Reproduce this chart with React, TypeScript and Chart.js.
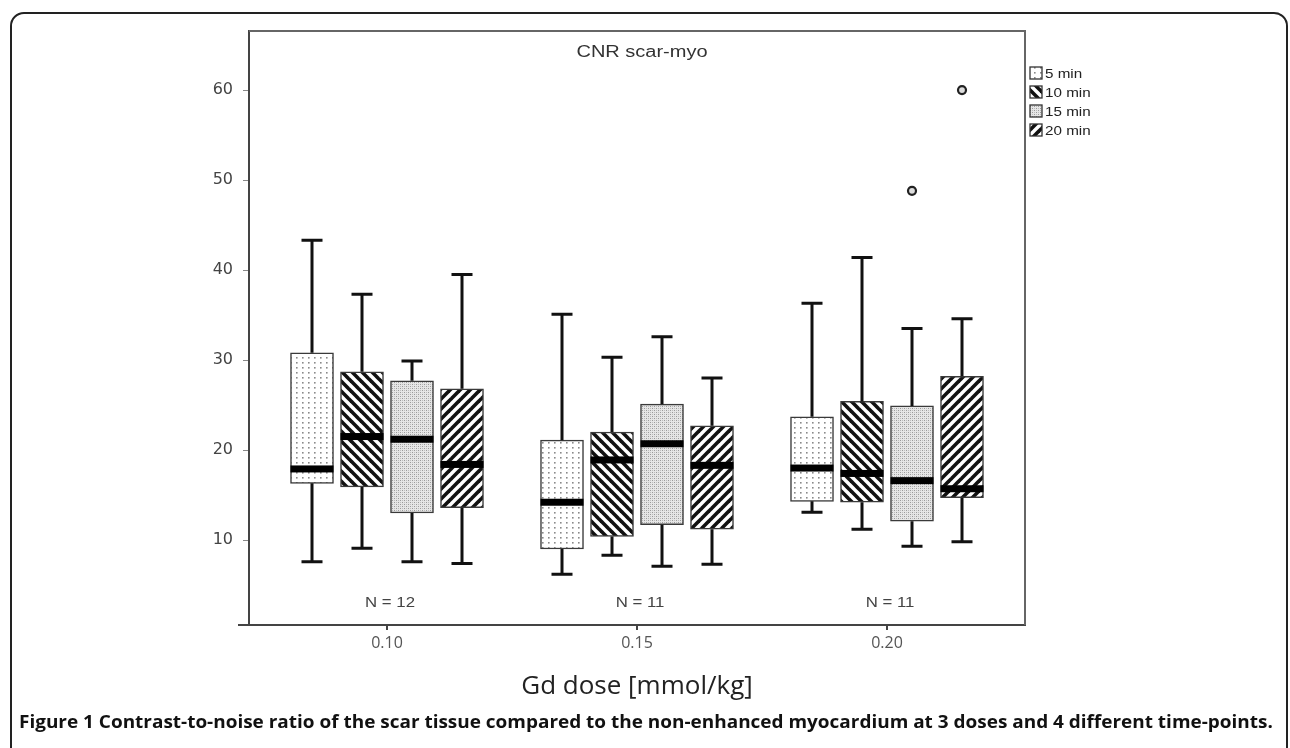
import React, { useEffect, useRef } from 'react';
import { Chart, registerables } from 'chart.js';

Chart.register(...registerables);

// ---- Data ----
const doses = [0.1, 0.15, 0.2];
const times = ['5 min', '10 min', '15 min', '20 min'];
const groupN = ['N = 12', 'N = 11', 'N = 11'];
const yTicks = [10, 20, 30, 40, 50, 60];
const timeOffsets = [-0.015, -0.005, 0.005, 0.015];

// 5 min
const min5 = [7.6, 6.2, 13.1];
const q1_5 = [16.3, 9.0, 14.3];
const med5 = [17.9, 14.2, 18.0];
const q3_5 = [30.8, 21.1, 23.7];
const max5 = [43.3, 35.1, 36.3];
// 10 min
const min10 = [9.1, 8.3, 11.2];
const q1_10 = [15.9, 10.4, 14.2];
const med10 = [21.5, 18.9, 17.4];
const q3_10 = [28.7, 22.0, 25.4];
const max10 = [37.3, 30.3, 41.4];
// 15 min
const min15 = [7.6, 7.1, 9.3];
const q1_15 = [13.0, 11.7, 12.1];
const med15 = [21.2, 20.7, 16.6];
const q3_15 = [27.7, 25.1, 24.9];
const max15 = [29.9, 32.6, 33.5];
// 20 min
const min20 = [7.4, 7.3, 9.8];
const q1_20 = [13.6, 11.2, 14.7];
const med20 = [18.4, 18.3, 15.7];
const q3_20 = [26.8, 22.7, 28.2];
const max20 = [39.5, 28.0, 34.6];

// outliers
const outlierDose = [0.2, 0.2];
const outlierTime = [2, 3];
const outlierValue = [48.8, 60.0];

const mins = [min5, min10, min15, min20];
const q1s = [q1_5, q1_10, q1_15, q1_20];
const meds = [med5, med10, med15, med20];
const q3s = [q3_5, q3_10, q3_15, q3_20];
const maxs = [max5, max10, max15, max20];

function makePattern(kind: string): CanvasPattern | string {
  const c = document.createElement('canvas');
  const ctx = c.getContext('2d')!;
  if (kind === 'dots') {
    c.width = 6; c.height = 5;
    ctx.fillStyle = '#fff'; ctx.fillRect(0, 0, 6, 5);
    ctx.fillStyle = '#8a8a8a'; ctx.fillRect(2, 2, 1.6, 1.6);
  } else if (kind === 'fine') {
    c.width = 4; c.height = 4;
    ctx.fillStyle = '#e6e6e6'; ctx.fillRect(0, 0, 4, 4);
    ctx.fillStyle = '#9a9a9a'; ctx.fillRect(0, 0, 1, 1); ctx.fillRect(2, 2, 1, 1);
    ctx.fillStyle = '#bdbdbd'; ctx.fillRect(2, 0, 1, 1); ctx.fillRect(0, 2, 1, 1);
  } else {
    c.width = 10; c.height = 10;
    ctx.fillStyle = '#fff'; ctx.fillRect(0, 0, 10, 10);
    ctx.strokeStyle = '#111'; ctx.lineWidth = 3.6;
    for (let k = -1; k <= 2; k++) {
      ctx.beginPath();
      if (kind === 'back') {
        ctx.moveTo(k * 10 - 3, -3); ctx.lineTo(k * 10 + 13, 13);
      } else {
        ctx.moveTo(k * 10 + 3, -3); ctx.lineTo(k * 10 - 13, 13);
      }
      ctx.stroke();
    }
  }
  return ctx.createPattern(c, 'repeat') || '#fff';
}

function stretchText(ctx: CanvasRenderingContext2D, text: string, x: number, y: number, sx: number) {
  ctx.save();
  ctx.translate(x, y);
  ctx.scale(sx, 1);
  ctx.fillText(text, 0, 0);
  ctx.restore();
}

export default function App() {
  const ref = useRef<HTMLCanvasElement | null>(null);

  useEffect(() => {
    const canvas = ref.current;
    if (!canvas) return;
    const patterns = [makePattern('dots'), makePattern('back'), makePattern('fine'), makePattern('fwd')];

    const boxPlugin = {
      id: 'boxExtras',
      afterDatasetsDraw(chart: any) {
        const ctx = chart.ctx as CanvasRenderingContext2D;
        const xs = chart.scales.x;
        const ys = chart.scales.y;
        const ca = chart.chartArea;
        ctx.save();
        for (let i = 0; i < times.length; i++) {
          for (let j = 0; j < doses.length; j++) {
            const x = xs.getPixelForValue(doses[j] + timeOffsets[i]);
            const yMin = ys.getPixelForValue(mins[i][j]);
            const yQ1 = ys.getPixelForValue(q1s[i][j]);
            const yMed = ys.getPixelForValue(meds[i][j]);
            const yQ3 = ys.getPixelForValue(q3s[i][j]);
            const yMax = ys.getPixelForValue(maxs[i][j]);
            ctx.strokeStyle = '#111';
            ctx.lineWidth = 3;
            ctx.beginPath();
            ctx.moveTo(x, yQ3); ctx.lineTo(x, yMax);
            ctx.moveTo(x, yQ1); ctx.lineTo(x, yMin);
            ctx.moveTo(x - 10.5, yMax); ctx.lineTo(x + 10.5, yMax);
            ctx.moveTo(x - 10.5, yMin); ctx.lineTo(x + 10.5, yMin);
            ctx.stroke();
            ctx.fillStyle = '#000';
            ctx.fillRect(x - 21.5, yMed - 3.5, 43, 7);
          }
        }
        // N labels
        ctx.fillStyle = '#444';
        ctx.font = '15px "Liberation Sans", Arial, sans-serif';
        ctx.textAlign = 'center';
        ctx.textBaseline = 'middle';
        for (let j = 0; j < doses.length; j++) {
          stretchText(ctx, groupN[j], xs.getPixelForValue(doses[j]) + 3, ys.getPixelForValue(3), 1.12);
        }
        // frame top/right
        ctx.strokeStyle = '#666';
        ctx.lineWidth = 2;
        ctx.beginPath();
        ctx.moveTo(ca.left, ca.top); ctx.lineTo(ca.right, ca.top); ctx.lineTo(ca.right, ca.bottom);
        ctx.stroke();
        ctx.strokeStyle = '#444';
        ctx.beginPath();
        ctx.moveTo(ca.left - 11, ca.bottom); ctx.lineTo(ca.left, ca.bottom);
        ctx.stroke();
        // title
        ctx.fillStyle = '#333';
        ctx.font = '16px "Liberation Sans", Arial, sans-serif';
        ctx.textAlign = 'center';
        stretchText(ctx, 'CNR scar-myo', (ca.left + ca.right) / 2 + 5, ca.top + 22, 1.25);
        // legend
        ctx.textAlign = 'left';
        ctx.font = '13px "Liberation Sans", Arial, sans-serif';
        for (let i = 0; i < times.length; i++) {
          const ly = 73 + i * 19;
          ctx.fillStyle = patterns[i] as any;
          ctx.fillRect(ca.right + 5, ly - 6, 12, 12);
          ctx.strokeStyle = '#333';
          ctx.lineWidth = 1.3;
          ctx.strokeRect(ca.right + 5, ly - 6, 12, 12);
          ctx.fillStyle = '#222';
          stretchText(ctx, times[i], ca.right + 20, ly + 1, 1.17);
        }
        ctx.restore();
      },
    };

    const chart = new Chart(canvas, {
      type: 'bar',
      data: {
        datasets: [
          ...times.map((t, i) => ({
            type: 'bar' as const,
            label: t,
            data: doses.map((d, j) => ({ x: d + timeOffsets[i], y: [q1s[i][j], q3s[i][j]] })),
            backgroundColor: patterns[i] as any,
            borderColor: '#3a3a3a',
            borderWidth: 1.5,
            borderSkipped: false,
            grouped: false,
            barThickness: 43,
          })),
          {
            type: 'scatter' as const,
            label: 'outliers',
            data: outlierDose.map((d, k) => ({ x: d + timeOffsets[outlierTime[k]], y: outlierValue[k] })),
            pointRadius: 4,
            pointBorderWidth: 2.2,
            pointBackgroundColor: '#ddd',
            pointBorderColor: '#222',
          } as any,
        ],
      },
      options: {
        responsive: false,
        animation: false,
        devicePixelRatio: 1,
        layout: { padding: { left: 0, top: 31, right: 265, bottom: 0 } },
        plugins: { legend: { display: false }, tooltip: { enabled: false }, title: { display: false } },
        scales: {
          x: {
            type: 'linear',
            min: 0.0724,
            max: 0.2276,
            offset: false,
            afterBuildTicks: (s: any) => { s.ticks = doses.map((v) => ({ value: v })); },
            afterFit: (s: any) => { s.height = 80; },
            ticks: {
              callback: (v: any) => Number(v).toFixed(2),
              font: { family: '"Open Sans", sans-serif', size: 16 },
              color: '#555',
              padding: 4,
              maxRotation: 0,
              autoSkip: false,
            },
            grid: { display: true, drawOnChartArea: false, tickLength: 5, offset: false, color: '#444', lineWidth: 2 },
            border: { display: true, color: '#444', width: 2 },
            title: {
              display: true,
              text: 'Gd dose [mmol/kg]',
              font: { family: '"Open Sans", sans-serif', size: 26 },
              color: '#222',
              padding: { top: 0, bottom: 3 },
            },
          } as any,
          y: {
            type: 'linear',
            min: 0.56,
            max: 66.56,
            afterBuildTicks: (s: any) => { s.ticks = yTicks.map((v) => ({ value: v })); },
            afterFit: (s: any) => { s.width = 249; },
            ticks: { font: { family: '"DejaVu Sans", sans-serif', size: 16 }, color: '#444', padding: 10 },
            grid: { drawOnChartArea: false, tickLength: 6, color: '#888', lineWidth: 1 },
            border: { color: '#444', width: 2 },
          } as any,
        },
      },
      plugins: [boxPlugin],
    } as any);

    return () => chart.destroy();
  }, []);

  return (
    <div style={{ position: 'fixed', left: 0, top: 0, width: 1290, height: 748, overflow: 'hidden', background: '#fff' }}>
      <canvas ref={ref} width={1290} height={705} style={{ position: 'absolute', left: 0, top: 0, display: 'block' }} />
      <div
        style={{
          position: 'absolute', left: 10, top: 12, width: 1278, height: 800, boxSizing: 'border-box',
          border: '2px solid #222', borderRadius: 14, pointerEvents: 'none',
        }}
      />
      <div
        style={{
          position: 'absolute', left: 19, top: 713, whiteSpace: 'nowrap', fontFamily: '"Open Sans", sans-serif',
          fontWeight: 700, fontSize: 17, lineHeight: '17px', color: '#111',
          transform: 'scaleX(1.115)', transformOrigin: 'left top',
        }}
      >
        Figure 1 Contrast-to-noise ratio of the scar tissue compared to the non-enhanced myocardium at 3 doses and 4 different time-points.
      </div>
    </div>
  );
}
